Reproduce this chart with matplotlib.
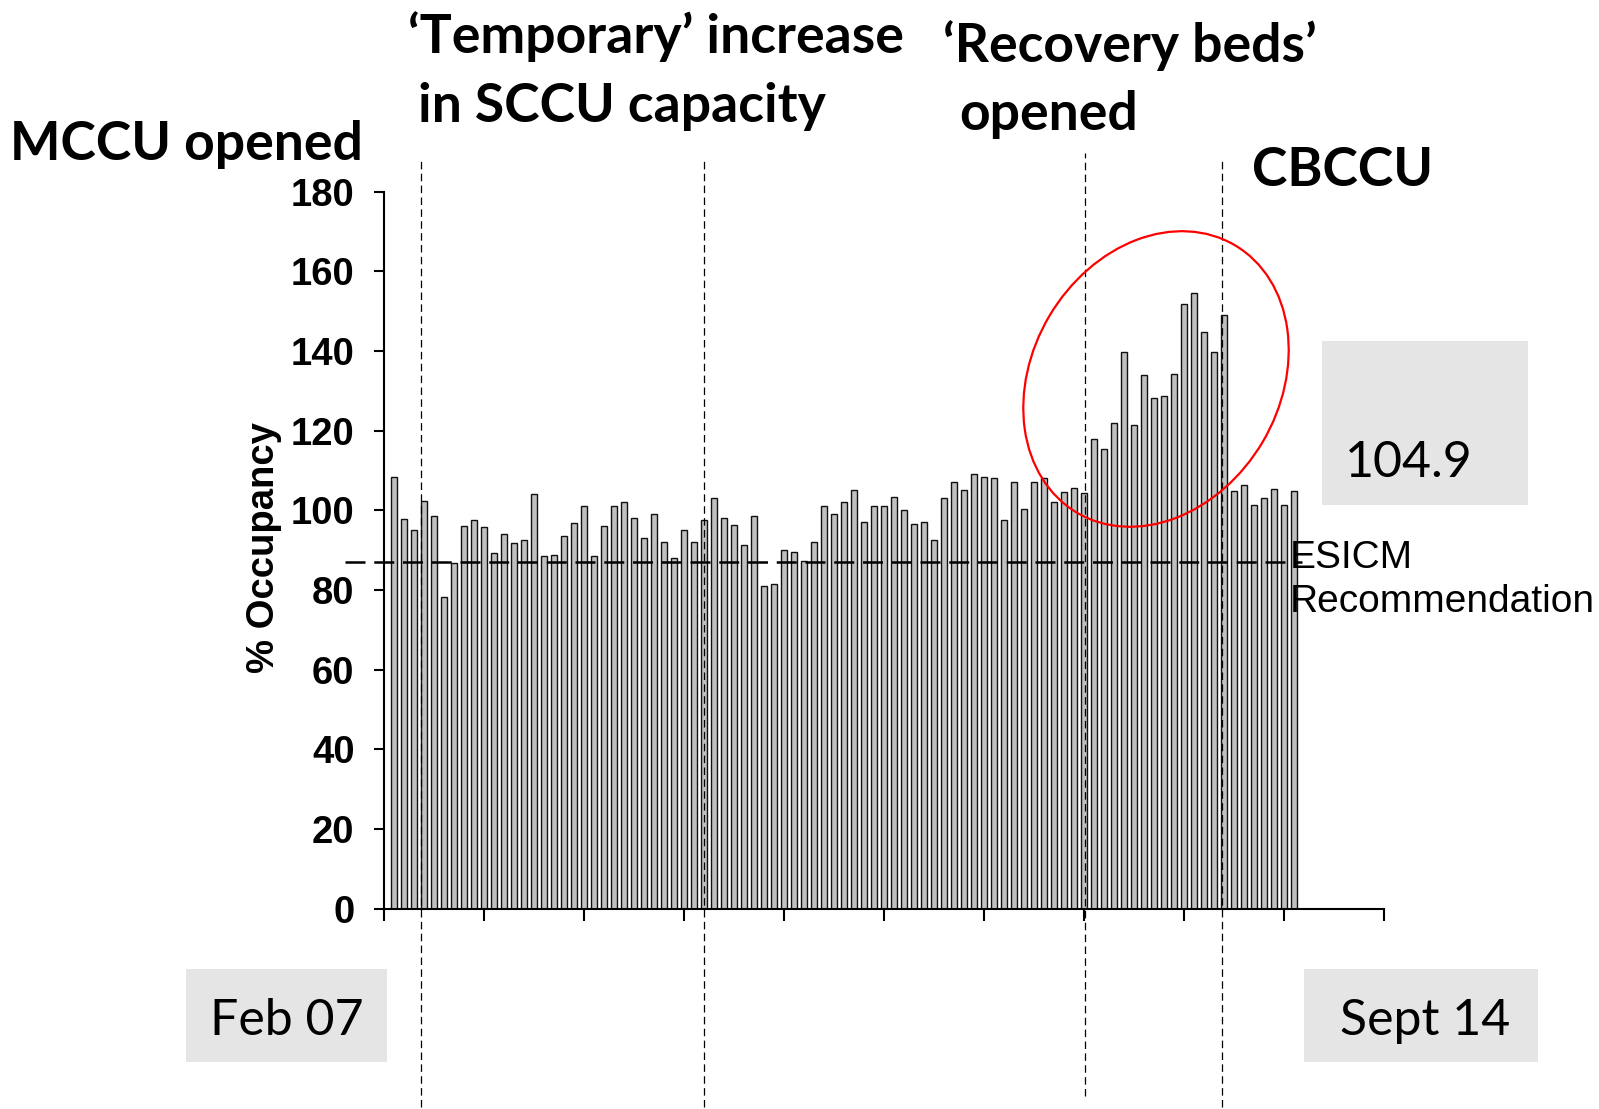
import numpy as np
import matplotlib
matplotlib.use("Agg")
import matplotlib.pyplot as plt
from matplotlib.patches import Ellipse, Rectangle
from matplotlib.transforms import IdentityTransform

# % occupancy per month, Feb 07 .. Sept 14
occupancy = [
    108.5, 97.8, 95.1, 102.3, 98.6, 78.3, 86.7, 96.1, 97.6, 95.8,
    89.3, 94.1, 91.8, 92.6, 104.1, 88.5, 88.8, 93.6, 96.8, 101.1,
    88.5, 96.1, 101.1, 102.2, 98.0, 93.1, 99.0, 92.0, 88.1, 95.1,
    92.1, 97.6, 103.1, 98.0, 96.3, 91.4, 98.6, 81.1, 81.4, 90.1,
    89.5, 87.3, 92.0, 101.1, 99.0, 102.2, 105.0, 97.1, 101.1, 101.1,
    103.4, 100.0, 96.7, 97.2, 92.6, 103.1, 107.0, 105.0, 109.1, 108.5,
    108.1, 97.6, 107.0, 100.4, 107.0, 108.1, 102.1, 104.5, 105.5, 104.4,
    118.0, 115.3, 122.0, 139.8, 121.4, 134.1, 128.1, 128.7, 134.3, 151.7,
    154.5, 144.7, 139.7, 149.1, 104.9, 106.4, 101.3, 103.0, 105.4, 101.3,
    104.9,
]
esicm_level = 87
event_pos = [3.65, 31.95, 70.1, 83.75]
yticks = list(range(0, 181, 20))

W, H = 1599, 1109
fig = plt.figure(figsize=(W / 100, H / 100), dpi=100)


def fx(x):
    return x / W


def fy(y):
    return 1 - y / H


ax = fig.add_axes([fx(384), fy(908.7), 1000 / W, 717 / H])
ax.patch.set_visible(False)

x = np.arange(1, len(occupancy) + 1)
ax.bar(x, occupancy, width=0.6, color="#c0c0c0", edgecolor="#111111", linewidth=1.0, zorder=2)

ax.set_xlim(0, 100)
ax.set_ylim(0, 180)
ax.set_xticks(np.arange(0, 101, 10))
ax.set_xticklabels([])
ax.set_yticks(yticks)
ax.set_yticklabels([str(t) for t in yticks], fontsize=27.5, fontweight="bold",
                   family="Liberation Sans")
ax.tick_params(axis="y", direction="out", length=7.2, width=1.5, pad=14)
ax.tick_params(axis="x", direction="out", length=8.6, width=1.5)
for s in ["top", "right"]:
    ax.spines[s].set_visible(False)
for s in ["left", "bottom"]:
    ax.spines[s].set_linewidth(1.5)

ax.set_ylabel("% Occupancy", fontsize=27.5, fontweight="bold", family="Liberation Sans")
ax.yaxis.set_label_coords(-0.102, 0.5036)

# ESICM recommendation line
ax.plot([-3.9, 91.8], [esicm_level, esicm_level], color="black", lw=1.8,
        linestyle=(0, (8, 3.5)), clip_on=False, zorder=3)
fig.text(fx(1290), fy(580), "ESICM\nRecommendation", fontsize=28,
         family="Liberation Sans", va="center", ha="left", linespacing=1.32)

# event markers
ext = [(1.044, -0.276), (1.044, -0.276), (1.054, -0.261), (1.044, -0.276)]
for xp, (top, bot) in zip(event_pos, ext):
    ax.axvline(xp, ymin=bot, ymax=top, color="black", lw=0.9,
               linestyle=(0, (6, 3.5)), clip_on=False, zorder=3)

head = dict(fontsize=38.5, fontweight="bold", family="Lato", va="baseline", ha="left")
fig.text(fx(10), fy(160), "MCCU opened", **head)
fig.text(fx(408), fy(53), "\u2018Temporary\u2019 increase", **head)
fig.text(fx(418), fy(122), "in SCCU capacity", **head)
fig.text(fx(943), fy(62), "\u2018Recovery beds\u2019", **head)
fig.text(fx(959), fy(130), "opened", **head)
fig.text(fx(1252), fy(186), "CBCCU", **head)

# grey label boxes
boxes = [
    (186, 969.3, 386.7, 1061.7),
    (1304, 969.3, 1538.3, 1061.7),
    (1321.7, 341, 1528.3, 505),
]
for x0, y0, x1, y1 in boxes:
    fig.add_artist(Rectangle((fx(x0), fy(y1)), fx(x1) - fx(x0), (y1 - y0) / H,
                             transform=fig.transFigure, facecolor="#e5e5e5",
                             edgecolor="none", zorder=-1))
box_font = dict(fontsize=36, family="Lato", va="baseline")
fig.text(fx(286.5), fy(1035), "Feb 07", ha="center", **box_font)
fig.text(fx(1340), fy(1035), "Sept 14", ha="left", **box_font)
fig.text(fx(1345), fy(477.3), "104.9", ha="left", **box_font)

# red ellipse around the peak
fig.add_artist(Ellipse((1156, H - 379), 310.6, 247.7, angle=59.4,
                       transform=IdentityTransform(), fill=False,
                       edgecolor="red", lw=1.6, zorder=5))

fig.savefig("out.png", dpi=100)
